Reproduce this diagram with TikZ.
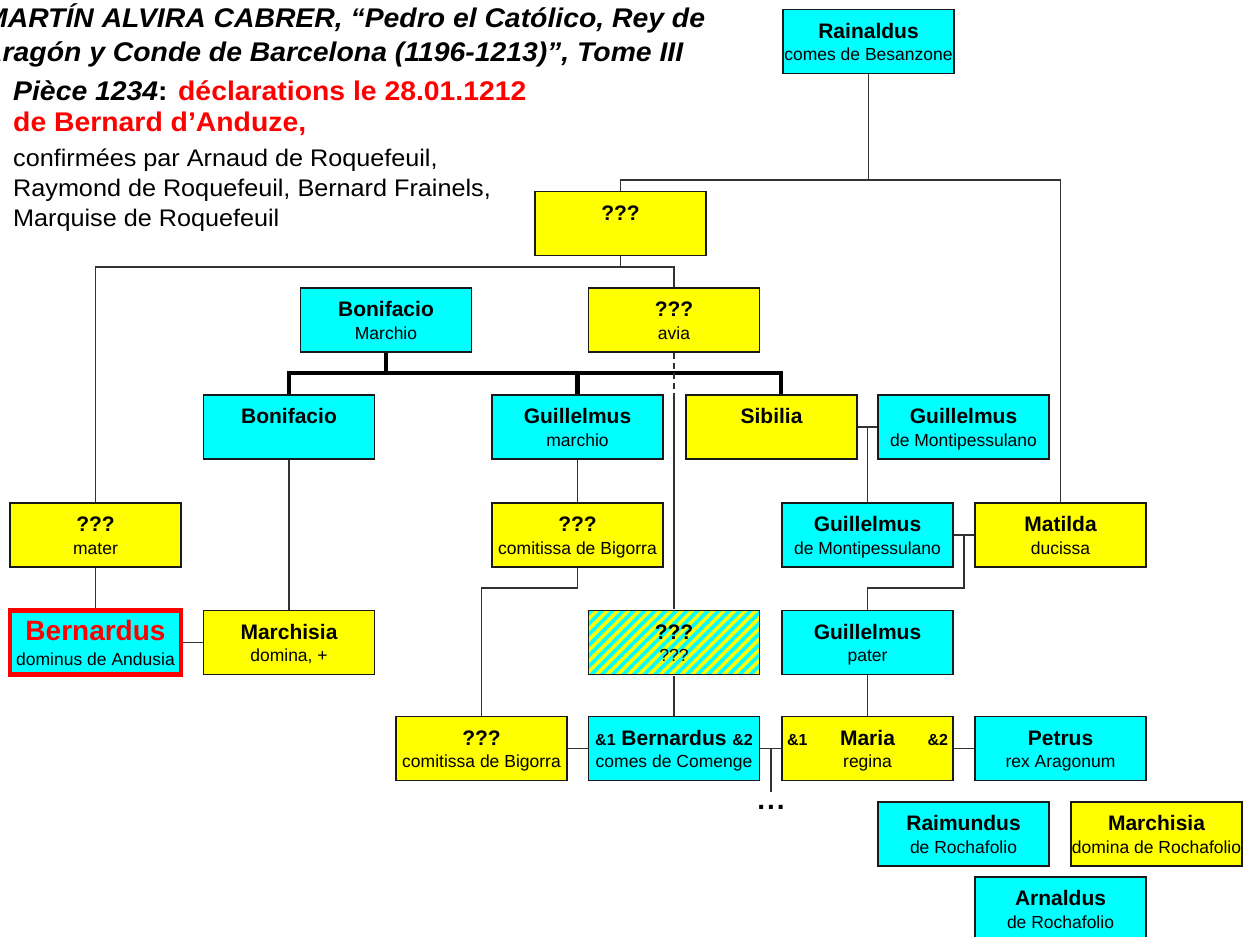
\documentclass[tikz,border=0pt]{standalone}
\usepackage{fontspec}
\setmainfont{Liberation Sans}
\newfontfamily\hdr[FakeStretch=1.05]{Liberation Sans}
\usetikzlibrary{patterns.meta}
\definecolor{cy}{RGB}{0,255,255}
\definecolor{ye}{RGB}{255,255,0}
\definecolor{rd}{RGB}{255,0,0}
\definecolor{ln}{RGB}{50,50,50}
\newcommand\two[2]{\rule{0pt}{20pt}{\fontsize{21}{22.5}\selectfont\bfseries #1}\\#2\rule[-4pt]{0pt}{4pt}}
\newcommand\amp[1]{{\fontsize{16}{20}\selectfont\bfseries\&#1}}
\tikzset{
  box/.style={draw=black!90, line width=1.4pt, minimum width=171pt, minimum height=64pt,
    inner sep=0pt, align=center, font=\fontsize{17.5}{22.5}\selectfont},
  cbox/.style={box, fill=cy},
  ybox/.style={box, fill=ye},
  conn/.style={draw=ln, line width=1.3pt},
  heavy/.style={draw=black, line width=4.5pt},
  txt/.style={anchor=base west, inner sep=0pt}
}
\begin{document}
\begin{tikzpicture}[x=1pt,y=-1pt]
\useasboundingbox (0,0) rectangle (1253,937);
\clip (0,0) rectangle (1253,937);
\fill[white] (0,0) rectangle (1253,937);

% header text
\node[txt] (t1) at (-16,27) {\hdr\fontsize{27}{30}\selectfont\bfseries\itshape MARTÍN ALVIRA CABRER, “Pedro el Católico, Rey de};
\node[txt] (t2) at (-18,61) {\hdr\fontsize{27}{30}\selectfont\bfseries\itshape Aragón y Conde de Barcelona (1196-1213)”, Tome III};
\node[txt] (t3) at (13,100) {\hdr\fontsize{27}{30}\selectfont\bfseries\textit{Pièce 1234}: \textcolor{rd}{déclarations le 28.01.1212}};
\node[txt] (t4) at (13,131) {\hdr\fontsize{27}{30}\selectfont\bfseries\textcolor{rd}{de Bernard d’Anduze,}};
\node[txt] (t5) at (13,166) {\hdr\fontsize{24}{28}\selectfont confirmées par Arnaud de Roquefeuil,};
\node[txt] (t6) at (13,196) {\hdr\fontsize{24}{28}\selectfont Raymond de Roquefeuil, Bernard Frainels,};
\node[txt] (t7) at (13,226) {\hdr\fontsize{24}{28}\selectfont Marquise de Roquefeuil};

% boxes
\node[cbox] (rain) at (868.5,41.5) {\two{Rainaldus}{comes de Besanzone}};
\node[ybox] (q1) at (620.5,223.5) {\two{???}{}};
\node[cbox] (bonm) at (386,320) {\two{Bonifacio}{Marchio}};
\node[ybox] (avia) at (674,320) {\two{???}{avia}};
\node[cbox] (bon) at (289,427) {\two{Bonifacio}{}};
\node[cbox] (gm) at (577.5,427) {\two{Guillelmus}{marchio}};
\node[ybox] (sib) at (771.5,427) {\two{Sibilia}{}};
\node[cbox] (gdm1) at (963.5,427) {\two{Guillelmus}{de Montipessulano}};
\node[ybox] (mater) at (95.5,535) {\two{???}{mater}};
\node[ybox] (com1) at (577.5,535) {\two{???}{comitissa de Bigorra}};
\node[cbox] (gdm2) at (867.5,535) {\two{Guillelmus}{de Montipessulano}};
\node[ybox] (matilda) at (1060.5,535) {\two{Matilda}{ducissa}};
\node[box, fill=cy, draw=rd, line width=4.5pt] (bern) at (95.5,642.5)
  {\rule{0pt}{24pt}\textcolor{rd}{\fontsize{28}{25}\selectfont\bfseries Bernardus}\\[2.5pt]dominus de Andusia\rule[-4pt]{0pt}{4pt}};
\node[ybox] (marchisia) at (289,642.5) {\two{Marchisia}{domina, +}};
\node[box, preaction={fill=ye}, pattern={Lines[angle=45,distance=7.5pt,line width=3.7pt]}, pattern color=cy] (hat) at (674,642.5) {\two{???}{???}};
\node[cbox] (pater) at (867.5,642.5) {\two{Guillelmus}{pater}};
\node[ybox] (com2) at (481.5,748.5) {\two{???}{comitissa de Bigorra}};
\node[cbox] (bcom) at (674,748.5) {\two{\amp{1} Bernardus \amp{2}}{comes de Comenge}};
\node[ybox] (maria) at (867.5,748.5) {\two{\makebox[161pt]{\amp{1}\hfill Maria\hfill\amp{2}}}{regina}};
\node[cbox] (petrus) at (1060.5,748.5) {\two{Petrus}{rex Aragonum}};
\node[cbox] (raim) at (963.5,834) {\two{Raimundus}{de Rochafolio}};
\node[ybox] (march2) at (1156.5,834) {\two{Marchisia}{domina de Rochafolio}};
\node[cbox] (arn) at (1060.5,909) {\two{Arnaldus}{de Rochafolio}};
\node[inner sep=0pt] (dots) at (771,807) {\fontsize{28}{30}\selectfont\bfseries .\kern2pt.\kern2pt.};

% connectors
\coordinate (j1) at (868.5,180);
\draw[conn] (rain) -- (j1);
\draw[conn] (q1.north) |- (j1) -| (matilda.north);
\coordinate (j2) at (620.5,267);
\draw[conn] (q1) -- (j2);
\draw[conn] (mater.north) |- (j2) -| (avia.north);
\coordinate (j3) at (386,373);
\draw[heavy] (bonm) -- (j3);
\draw[heavy] (bon.north) |- (j3) -| ([xshift=9.5pt]sib.north);
\draw[heavy] (j3) -| (gm.north);
\coordinate (j4) at (674,395);
\draw[conn, dash pattern=on 6pt off 4pt] (avia) -- (j4);
\draw[conn] (j4) -- (hat);
\draw[conn] (sib) -- (gdm1);
\coordinate (m1) at (867.5,427);
\draw[conn] (m1) -- (gdm2);
\draw[conn] (gdm2) -- (matilda);
\coordinate (m2) at (964,535);
\coordinate (j5) at (964,588);
\draw[conn] (m2) -- (j5) -| (pater.north);
\draw[conn] (gm) -- (com1);
\coordinate (j6) at (577.5,588);
\draw[conn] (com1) -- (j6) -| (com2.north);
\draw[conn] (bon) -- (marchisia);
\draw[conn] (mater) -- (bern);
\draw[conn] (bern) -- (marchisia);
\draw[conn] (hat) -- (bcom);
\draw[conn] (pater) -- (maria);
\draw[conn] (com2) -- (bcom);
\draw[conn] (bcom) -- (maria);
\draw[conn] (maria) -- (petrus);
\coordinate (m3) at (771,748.5);
\coordinate (m3b) at (771,792);
\draw[conn] (m3) -- (m3b);
\end{tikzpicture}
\end{document}
